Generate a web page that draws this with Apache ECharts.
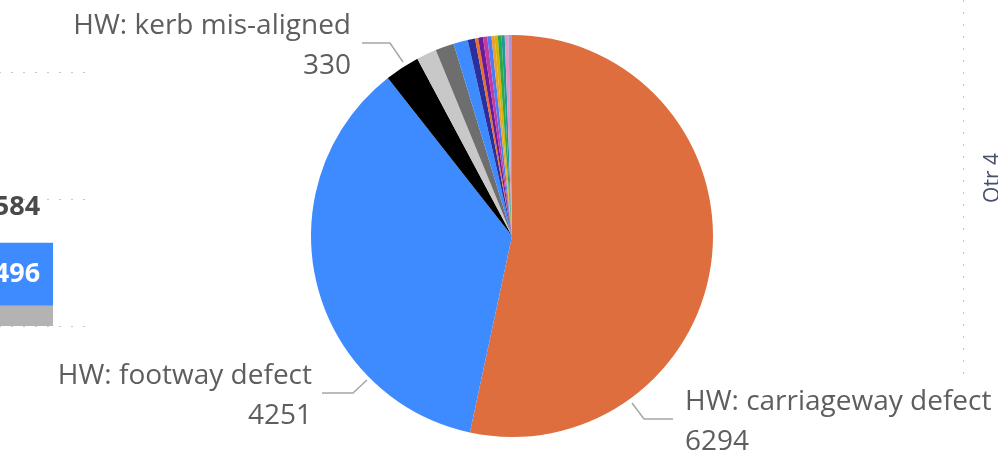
<!DOCTYPE html>
<html>
<head>
<meta charset="utf-8">
<title>Defects by type</title>
<script src="https://cdn.jsdelivr.net/npm/echarts@6/dist/echarts.min.js"></script>
<style>
  html, body { margin: 0; padding: 0; background: #fff; }
  #chart { width: 998px; height: 458px; }
</style>
</head>
<body>
<div id="chart"></div>
<script>
// pie: defect counts by type (clockwise from 12 o'clock)
const defectNames = [
  'HW: carriageway defect', 'HW: footway defect', 'HW: kerb mis-aligned',
  'Other 1', 'Other 2', 'Other 3', 'Other 4', 'Other 5', 'Other 6', 'Other 7',
  'Other 8', 'Other 9', 'Other 10', 'Other 11', 'Other 12', 'Other 13', 'Other 14'
];
const defectValues = [6294, 4251, 330, 190, 177, 135, 70, 30, 45, 40, 40, 30, 30, 35, 30, 35, 33];
const defectColors = [
  '#DE6E3D', '#3D8BFF', '#000000', '#C8C8C8', '#6E6E6E', '#3D8BFF', '#2B2F9E', '#E8702A',
  '#6A1B9A', '#C43BA0', '#4F7BF0', '#E8A030', '#D6B400', '#2EA84A', '#1E9A9A', '#E49AC0', '#A796D8'
];
const labelledCount = 3;

// cut-off column on the left edge
const leftCategories = ['Qtr 3'];
const leftGrey = [160];
const leftBlue = [496];
const leftTotal = [584];

// cut-off axis label on the right edge
const rightAxisLabel = 'Qtr 4';

const labelColor = '#605E5C';
const font = 'Open Sans';

// where Power BI put the three leader lines
const labelPlacement = {
  0: { line: [[632, 403], [644, 419], [673, 419]], x: 685, align: 'left' },
  1: { line: [[367, 380], [353, 393], [322, 393]], x: 312, align: 'right' },
  2: { line: [[403, 62], [390, 43], [362, 43]], x: 351, align: 'right' }
};

const pieData = defectValues.map((v, i) => {
  const d = { name: defectNames[i], value: v, itemStyle: { color: defectColors[i] } };
  if (i >= labelledCount) {
    d.label = { show: false };
    d.labelLine = { show: false };
  }
  return d;
});

const chart = echarts.init(document.getElementById('chart'), null, { renderer: 'canvas' });

chart.setOption({
  animation: false,
  textStyle: { fontFamily: font },
  grid: [{ left: -61, width: 156, top: 72, bottom: 132, outerBoundsMode: 'none' }],
  xAxis: [{
    type: 'category', data: leftCategories, gridIndex: 0,
    axisLine: { show: false }, axisTick: { show: false }, axisLabel: { show: false }
  }],
  yAxis: [{
    type: 'value', gridIndex: 0, min: 0, max: 2000, interval: 1000,
    axisLine: { show: false }, axisTick: { show: false }, axisLabel: { show: false },
    splitLine: { lineStyle: { color: '#C8C8C8', type: [2, 10], width: 1.2 } }
  }],
  graphic: [
    {
      type: 'line', silent: true,
      shape: { x1: 963.5, y1: 0, x2: 963.5, y2: 380 },
      style: { stroke: '#C8C8C8', lineWidth: 1.2, lineDash: [2, 10] }
    },
    {
      type: 'text', silent: true, x: 993, y: 178, rotation: Math.PI / 2,
      style: {
        text: rightAxisLabel, fill: '#465068', font: '21px "' + font + '"',
        textAlign: 'center', textVerticalAlign: 'middle'
      }
    }
  ],
  series: [
    {
      type: 'bar', stack: 'left', xAxisIndex: 0, yAxisIndex: 0,
      data: leftGrey, barWidth: 72, itemStyle: { color: '#B3B3B3' }
    },
    {
      type: 'bar', stack: 'left', xAxisIndex: 0, yAxisIndex: 0,
      data: leftBlue, barWidth: 72, itemStyle: { color: '#3D8BFF' },
      label: { show: true, position: 'inside', color: '#fff', fontWeight: 'bold', fontSize: 27 }
    },
    {
      // zero-height segment carries the total label
      type: 'bar', stack: 'left', xAxisIndex: 0, yAxisIndex: 0,
      data: leftTotal.map(() => 0), barWidth: 72,
      label: {
        show: true, position: 'top', distance: 22, color: '#4A4A4A', fontWeight: 'bold', fontSize: 27,
        formatter: (p) => String(leftTotal[p.dataIndex])
      }
    },
    {
      type: 'pie',
      center: [512, 236],
      radius: 201,
      startAngle: 90,
      clockwise: true,
      avoidLabelOverlap: false,
      data: pieData,
      label: {
        show: true, formatter: '{b}\n{c}', color: labelColor,
        fontSize: 28, lineHeight: 40, fontFamily: font
      },
      labelLine: { show: true, lineStyle: { color: '#A6A6A6', width: 1.5 } },
      labelLayout: function (p) {
        const pl = labelPlacement[p.dataIndex];
        if (!pl) return {};
        return {
          x: pl.x, y: pl.line[2][1] + 3, align: pl.align, verticalAlign: 'middle',
          labelLinePoints: pl.line
        };
      }
    }
  ]
});

window.addEventListener('resize', () => chart.resize());
</script>
</body>
</html>
